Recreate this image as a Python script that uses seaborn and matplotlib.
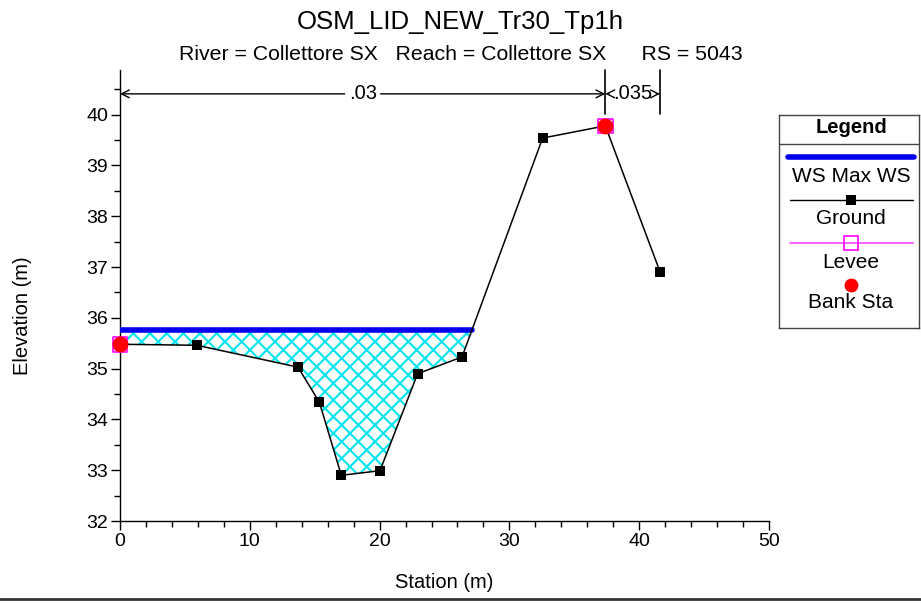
import numpy as np
import pandas as pd
import matplotlib
matplotlib.use("Agg")
import matplotlib.pyplot as plt
from matplotlib.lines import Line2D
import seaborn as sns

# Cross-section data
station = [0.0, 5.91, 13.71, 15.36, 17.05, 20.03, 22.93, 26.35, 32.56, 37.39, 41.6]
elevation = [35.48, 35.46, 35.03, 34.34, 32.90, 32.99, 34.90, 35.23, 39.54, 39.78, 36.91]
bank_sta = [0.0, 37.39]
bank_elev = [35.48, 39.78]
levee_sta = [0.0, 37.39]
levee_elev = [35.48, 39.78]
ws_max = 35.77
manning_n = [".03", ".035"]
n_breaks = [0.0, 37.39, 41.6]

title = "OSM_LID_NEW_Tr30_Tp1h"
subtitle = "River = Collettore SX   Reach = Collettore SX      RS = 5043"

sns.set_style("ticks")
plt.rcParams["font.family"] = ["Liberation Sans", "DejaVu Sans"]
plt.rcParams["text.color"] = "black"
plt.rcParams["axes.labelcolor"] = "black"
plt.rcParams["xtick.color"] = "black"
plt.rcParams["ytick.color"] = "black"
plt.rcParams["hatch.linewidth"] = 1.5
plt.rcParams["hatch.color"] = "#00e5ee"

W, H = 921, 604
fig = plt.figure(figsize=(W / 100, H / 100), dpi=100)
ax = fig.add_axes([120 / W, 1 - 521 / H, (769 - 120) / W, (521 - 70) / H])

df = pd.DataFrame({"Station": station, "Elevation": elevation})

# Water surface extent: from left bank to where it meets the ground on the right
st = np.array(station)
el = np.array(elevation)
i = 7
x_right = st[i] + (ws_max - el[i]) / (el[i + 1] - el[i]) * (st[i + 1] - st[i])
fx = np.concatenate([st[st <= x_right], [x_right]])
fy = np.concatenate([el[st <= x_right], [ws_max]])
ax.fill_between(fx, fy, ws_max, facecolor="white", edgecolor="#00e5ee",
                hatch="xx", linewidth=0, zorder=1)
ax.plot([0, x_right], [ws_max, ws_max], color="#0000ee", lw=4,
        solid_capstyle="round", zorder=3)

sns.lineplot(data=df, x="Station", y="Elevation", sort=False, color="black",
             lw=1.1, marker="s", markersize=7, markeredgewidth=0,
             ax=ax, zorder=4)
ax.scatter(levee_sta, levee_elev, marker="s", s=110, facecolor="none",
           edgecolor="#ff00ff", linewidth=1.2, zorder=5, clip_on=False)
sns.scatterplot(x=bank_sta, y=bank_elev, color="red", s=130, linewidth=0,
                ax=ax, zorder=6, clip_on=False)

ax.set_xlim(0, 50)
ax.set_ylim(32, 40.88)
ax.set_xticks(np.arange(0, 51, 10))
ax.set_xticks(np.arange(0, 51, 2), minor=True)
ax.set_yticks(np.arange(32, 41, 1))
ax.set_yticks(np.arange(32, 40.6, 0.5), minor=True)
ax.tick_params(which="major", length=6.5, width=1, labelsize=14, direction="out",
               colors="black", pad=2)
ax.tick_params(which="minor", length=4, width=1, direction="out")
ax.set_xlabel("")
ax.set_ylabel("")
for s in ("top", "right"):
    ax.spines[s].set_visible(False)
for s in ("left", "bottom"):
    ax.spines[s].set_color("black")
    ax.spines[s].set_linewidth(1)

fig.text(444 / W, 1 - 583 / H, "Station (m)", ha="center", va="center", fontsize=14.5)
fig.text(23 / W, 1 - 316 / H, "Elevation (m)", ha="center", va="center",
         fontsize=14.5, rotation=90)

# Manning's n regions along the top: arrows split around each label
y_arrow = 40.41
fig.canvas.draw()
inv = ax.transData.inverted()
for k, lab in enumerate(manning_n):
    x0, x1 = n_breaks[k], n_breaks[k + 1]
    xm = (x0 + x1) / 2
    t = ax.text(xm, y_arrow, lab, ha="center", va="center", fontsize=14.5, zorder=7)
    bb = t.get_window_extent(renderer=fig.canvas.get_renderer())
    gl = inv.transform((bb.x0 - 4, bb.y0))[0]
    gr = inv.transform((bb.x1 + 4, bb.y0))[0]
    for xa, xb in ((x0, min(gl, xm)), (x1, max(gr, xm))):
        ax.annotate("", xy=(xa, y_arrow), xytext=(xb, y_arrow),
                    arrowprops=dict(arrowstyle="->", color="black", lw=1,
                                    shrinkA=0, shrinkB=0, mutation_scale=14),
                    annotation_clip=False, zorder=8)
for xb in n_breaks[1:]:
    ax.plot([xb, xb], [40.02, 40.88], color="black", lw=1.2, clip_on=False)

fig.text(0.5, 1 - 22 / H, title, ha="center", va="center", fontsize=18.5)
fig.text(0.5, 1 - 54 / H, subtitle, ha="center", va="center", fontsize=15.3)

# Legend panel
lx0, ly0, lx1, ly1 = 779, 115, 919, 328
lg = fig.add_axes([lx0 / W, 1 - ly1 / H, (lx1 - lx0) / W, (ly1 - ly0) / H])
lw_, lh_ = lx1 - lx0, ly1 - ly0
lg.set_xlim(0, lw_)
lg.set_ylim(lh_, 0)
lg.set_xticks([])
lg.set_yticks([])
for s in lg.spines.values():
    s.set_color("#444444")
    s.set_linewidth(1)
cx = 72
lg.plot([0, lw_], [29, 29], color="#444444", lw=1)
lg.text(cx, 13, "Legend", ha="center", va="center", fontsize=14.5, fontweight="bold")
lg.plot([9, 135], [42, 42], color="#0000ee", lw=4, solid_capstyle="round")
lg.text(cx, 62, "WS Max WS", ha="center", va="center", fontsize=15)
lg.plot([11, 134], [85, 85], color="black", lw=1)
lg.plot([cx], [85], marker="s", color="black", markersize=7, markeredgewidth=0)
lg.text(cx, 103, "Ground", ha="center", va="center", fontsize=15)
lg.plot([11, 134], [128, 128], color="#ff44ff", lw=1.2)
lg.plot([cx], [128], marker="s", markerfacecolor="none", markeredgecolor="#ff00ff",
        markersize=9.5, markeredgewidth=1.2)
lg.text(cx, 147, "Levee", ha="center", va="center", fontsize=15)
lg.plot([cx], [170], marker="o", color="red", markersize=10, markeredgewidth=0)
lg.text(cx, 188, "Bank Sta", ha="center", va="center", fontsize=15)

# Frame line along the lower edge
fig.add_artist(Line2D([0, 1], [1 - 599 / H, 1 - 599 / H], color="#333333", lw=2))

fig.savefig("out.png", dpi=100)
